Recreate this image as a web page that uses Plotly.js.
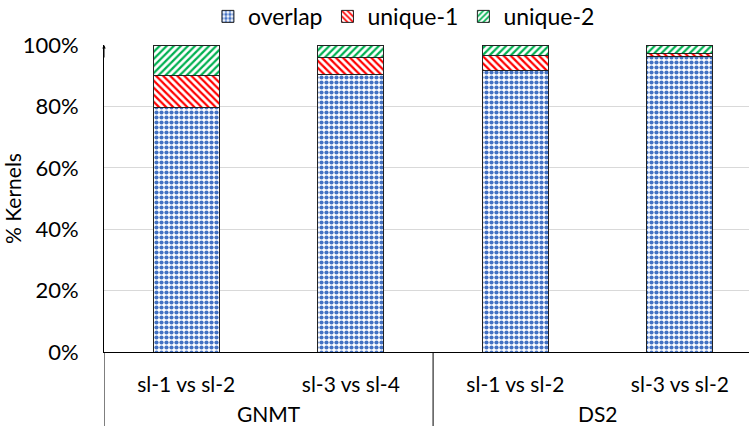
<!DOCTYPE html>
<html><head><meta charset="utf-8">
<script src="https://cdn.plot.ly/plotly-3.0.1.min.js"></script>
<style>html,body{margin:0;padding:0;background:#fff}#c{width:749px;height:426px}</style>
</head><body><div id="c"></div>
<script>
const groups = ["GNMT","GNMT","DS2","DS2"];
const pairs = ["sl-1 vs sl-2","sl-3 vs sl-4","sl-1 vs sl-2","sl-3 vs sl-2"];
const overlap = [79.5, 90.5, 91.8, 96.3];
const unique1 = [10.7, 5.5, 4.7, 1.0];
const unique2 = [9.8, 4.0, 3.5, 2.7];
const yTicks = [0,20,40,60,80,100];

// category positions (index of each bar) and group layout derived from the arrays
const idx = pairs.map((_, i) => i);
const groupNames = [...new Set(groups)];
const groupCenters = groupNames.map(g => {
  const ii = idx.filter(i => groups[i] === g);
  return (ii[0] + ii[ii.length - 1]) / 2;
});
const dividers = [-0.5];
groups.forEach((g, i) => { if (i > 0 && g !== groups[i - 1]) dividers.push(i - 0.5); });
dividers.push(groups.length - 0.5);

const line = {color:"#222", width:1};
const traces = [
  {type:"bar", name:"overlap", x:idx, y:overlap,
   marker:{color:"#fff", line:line, pattern:{shape:".", fgcolor:"#4472C4", bgcolor:"#fff", size:5, solidity:0.55}}},
  {type:"bar", name:"unique-1", x:idx, y:unique1,
   marker:{color:"#fff", line:line, pattern:{shape:"\\", fgcolor:"#FF0000", bgcolor:"#fff", size:5, solidity:0.45}}},
  {type:"bar", name:"unique-2", x:idx, y:unique2,
   marker:{color:"#fff", line:line, pattern:{shape:"/", fgcolor:"#00B050", bgcolor:"#fff", size:5, solidity:0.45}}}
];
const fam = "Lato, 'Open Sans', sans-serif";
const font = (s) => ({family:fam, size:s, color:"#000"});
const clear = "rgba(0,0,0,0)";
const plotH = 426 - 45 - 74;

const annotations = groupNames.map((g, k) => ({
  text:g, x:groupCenters[k], xref:"x", y:0, yref:"paper", yanchor:"middle", xanchor:"center",
  yshift:-61, showarrow:false, font:font(21)
}));
annotations.push({text:"", x:-0.5, xref:"x", y:100, yref:"y", showarrow:true, axref:"pixel", ayref:"pixel",
  ax:0, ay:14, arrowhead:2, arrowsize:0.7, arrowwidth:1, arrowcolor:"#000", standoff:0});

const shapes = dividers.map(d => ({
  type:"line", xref:"x", yref:"paper", x0:d, x1:d, y0:0, y1:-74/plotH, line:{color:"#000", width:1}
}));

const layout = {
  width:749, height:426,
  margin:{l:104, r:0, t:45, b:74, autoexpand:false},
  barmode:"stack", bargap:0.6,
  font:font(19),
  showlegend:true,
  legend:{orientation:"h", x:0.465, xanchor:"center", y:1.023, yanchor:"bottom", font:font(23), traceorder:"normal", itemwidth:30},
  xaxis:{range:[-0.5,3.42], tickvals:idx, ticktext:pairs, showline:true, linecolor:"#000", linewidth:1,
         showgrid:false, zeroline:false, ticks:"outside", ticklen:14, tickcolor:clear, tickfont:font(21)},
  yaxis:{range:[0,100], tickvals:yTicks, ticktext:yTicks.map(v=>v+"%"), showgrid:true, gridcolor:"#d9d9d9",
         showline:true, linecolor:"#000", linewidth:1, ticks:"outside", ticklen:20, tickcolor:clear, tickfont:font(22), zeroline:false,
         title:{text:"% Kernels", font:font(21), standoff:0}},
  annotations:annotations,
  shapes:shapes,
  plot_bgcolor:"#fff", paper_bgcolor:"#fff"
};
Plotly.newPlot("c", traces, layout, {displayModeBar:false, staticPlot:true});
</script></body></html>
